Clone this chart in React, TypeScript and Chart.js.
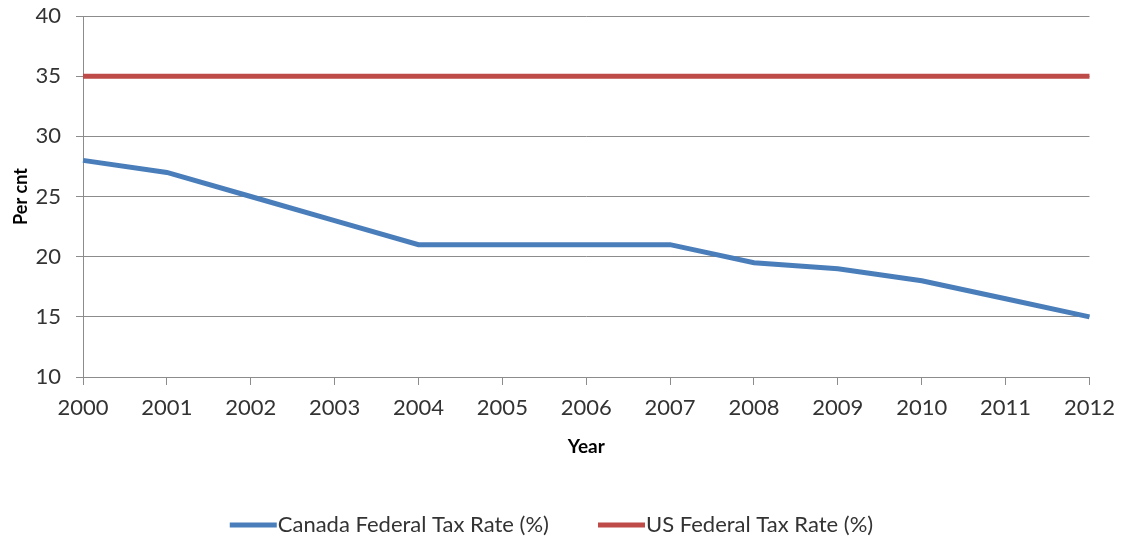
import React, { useEffect, useRef } from "react";
import { Chart, registerables } from "chart.js";

Chart.register(...registerables);

const years = ["2000", "2001", "2002", "2003", "2004", "2005", "2006", "2007", "2008", "2009", "2010", "2011", "2012"];
const canadaRate = [28, 27, 25, 23, 21, 21, 21, 21, 19.5, 19, 18, 16.5, 15];
const usRate = [35, 35, 35, 35, 35, 35, 35, 35, 35, 35, 35, 35, 35];
const seriesNames = ["Canada Federal Tax Rate (%)", "US Federal Tax Rate (%)"];
const seriesColors = ["#4A7EBB", "#BE4B48"];
const yMin = 10;
const yMax = 40;
const yStep = 5;
const xTitle = "Year";
const yTitle = "Per cnt";

const FONT = "Lato, 'Open Sans', sans-serif";
const GRID = "#8c8c8c";
const TEXT = "#333333";

const lineLegend = {
  id: "lineLegend",
  afterDraw(chart: any) {
    const ctx = chart.ctx as CanvasRenderingContext2D;
    ctx.save();
    ctx.font = `22px ${FONT}`;
    const lineLen = 47;
    const gap = 49;
    const textGap = 1;
    const items = chart.data.datasets.map((ds: any) => ({
      label: ds.label as string,
      color: ds.borderColor as string,
      w: ctx.measureText(ds.label).width,
    }));
    const total =
      items.reduce((s: number, it: any) => s + lineLen + textGap + it.w, 0) + gap * (items.length - 1);
    let x = (chart.width - total) / 2 - 11;
    const y = chart.height - 13;
    ctx.textBaseline = "middle";
    ctx.textAlign = "left";
    for (const it of items) {
      ctx.strokeStyle = it.color;
      ctx.lineWidth = 5;
      ctx.lineCap = "butt";
      ctx.beginPath();
      ctx.moveTo(x, y);
      ctx.lineTo(x + lineLen, y);
      ctx.stroke();
      x += lineLen + textGap;
      ctx.fillStyle = TEXT;
      ctx.fillText(it.label, x, y);
      x += it.w + gap;
    }
    ctx.restore();
  },
};

export default function App() {
  const canvasRef = useRef<HTMLCanvasElement | null>(null);

  useEffect(() => {
    if (!canvasRef.current) return;
    const chart = new Chart(canvasRef.current, {
      type: "line",
      data: {
        labels: years,
        datasets: [
          {
            label: seriesNames[0],
            data: canadaRate,
            borderColor: seriesColors[0],
            backgroundColor: seriesColors[0],
            borderWidth: 5,
            pointRadius: 0,
            tension: 0,
          },
          {
            label: seriesNames[1],
            data: usRate,
            borderColor: seriesColors[1],
            backgroundColor: seriesColors[1],
            borderWidth: 5,
            pointRadius: 0,
            tension: 0,
          },
        ],
      },
      options: {
        animation: false,
        responsive: true,
        maintainAspectRatio: false,
        layout: { padding: { left: 0, right: 35, top: 16, bottom: 50 } },
        plugins: {
          legend: { display: false },
          tooltip: { enabled: false },
        },
        scales: {
          x: {
            offset: false,
            grid: {
              drawOnChartArea: false,
              drawTicks: true,
              tickLength: 8,
              color: GRID,
              lineWidth: 1,
            },
            border: { display: true, color: GRID, width: 1 },
            ticks: {
              color: TEXT,
              font: { family: FONT, size: 22 },
              padding: 10,
              maxRotation: 0,
              autoSkip: false,
            },
            title: {
              display: true,
              text: xTitle,
              color: "#000",
              font: { family: FONT, size: 19, weight: "bold" },
              padding: { top: 0, bottom: 30 },
            },
            afterFit: (scale: any) => {
              scale.height = 111;
            },
          },
          y: {
            min: yMin,
            max: yMax,
            grid: {
              drawOnChartArea: true,
              drawTicks: true,
              tickLength: 7,
              color: GRID,
              lineWidth: 1,
            },
            border: { display: true, color: GRID, width: 1 },
            ticks: {
              stepSize: yStep,
              color: TEXT,
              font: { family: FONT, size: 22 },
              padding: 15,
            },
            title: {
              display: true,
              text: yTitle,
              color: "#000",
              font: { family: FONT, size: 18, weight: "bold" },
              padding: { top: 10, bottom: 0 },
            },
            afterFit: (scale: any) => {
              scale.width = 83;
              scale.paddingTop = 0;
              scale.paddingBottom = 0;
            },
          },
        },
      },
      plugins: [lineLegend],
    });
    return () => chart.destroy();
  }, []);

  return (
    <div style={{ position: "fixed", left: 0, top: 0, width: 1125, height: 538, background: "#fff" }}>
      <canvas ref={canvasRef} />
    </div>
  );
}
